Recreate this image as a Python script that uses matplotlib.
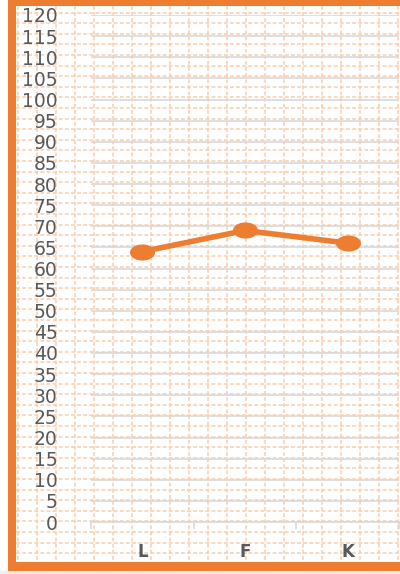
import matplotlib.pyplot as plt
import numpy as np
from matplotlib.path import Path
from matplotlib.patches import Rectangle

plt.rcParams['font.family'] = ['DejaVu Sans']

categories = ['L', 'F', 'K']
values = [64, 69, 66]
yticks = list(range(0, 125, 5))

orange = '#ed7d31'
paper = '#f8cdae'
grey_txt = '#595959'

W, H = 400, 574
fig = plt.figure(figsize=(W / 100, H / 100), dpi=100)

# background "graph paper" drawn in pixel coordinates
bg = fig.add_axes([0, 0, 1, 1], zorder=0)
bg.set_xlim(0, W)
bg.set_ylim(H, 0)
bg.axis('off')
for x in np.arange(18, W, 19):
    bg.plot([x, x], [6, 562], color=paper, lw=1.1, ls=(0, (2.5, 1.5)))
for y in np.arange(12.7, 562, 10.6):
    bg.plot([16, W], [y, y], color=paper, lw=1.1, ls=(0, (2.5, 1.5)))
bg.add_patch(Rectangle((0, 571), W, 3, color='#eeeeee', lw=0))
bg.add_patch(Rectangle((8, 0), 8, 571, color=orange, lw=0))
bg.add_patch(Rectangle((8, 0), W, 6, color=orange, lw=0))
bg.add_patch(Rectangle((8, 562), W, 9, color=orange, lw=0))

ax = fig.add_axes([91 / W, (H - 522) / H, 308 / W, 507 / H], zorder=1)
ax.patch.set_alpha(0)
ax.set_xlim(-0.5, 2.5)
ax.set_ylim(0, 120)
for s in ['top', 'right', 'left']:
    ax.spines[s].set_visible(False)
ax.spines['bottom'].set_color('#d9d9d9')
ax.spines['bottom'].set_linewidth(1.2)

ax.set_yticks(yticks)
ax.yaxis.grid(True, color='#d9d9d9', lw=1.2)
ax.set_axisbelow(True)
ax.tick_params(axis='y', length=0, pad=24, labelsize=13.5, labelcolor=grey_txt)

xpos = np.arange(len(categories))
ax.set_xticks(xpos)
ax.set_xticklabels(categories)
ax.set_xticks(np.arange(-0.5, len(categories), 1), minor=True)
ax.tick_params(axis='x', which='major', length=0, pad=15, labelsize=12, labelcolor=grey_txt)
ax.tick_params(axis='x', which='minor', length=5, color='#d9d9d9', width=1.2)
for lab in ax.get_xticklabels():
    lab.set_fontweight('bold')

# slightly wide elliptical marker
t = np.linspace(0, 2 * np.pi, 40)
ell = Path(np.column_stack([1.6 * np.cos(t), np.sin(t)]))
ax.plot(xpos, values, color=orange, lw=4, marker=ell, markersize=17,
        solid_capstyle='round', clip_on=False)

fig.savefig('out.png', dpi=100)
